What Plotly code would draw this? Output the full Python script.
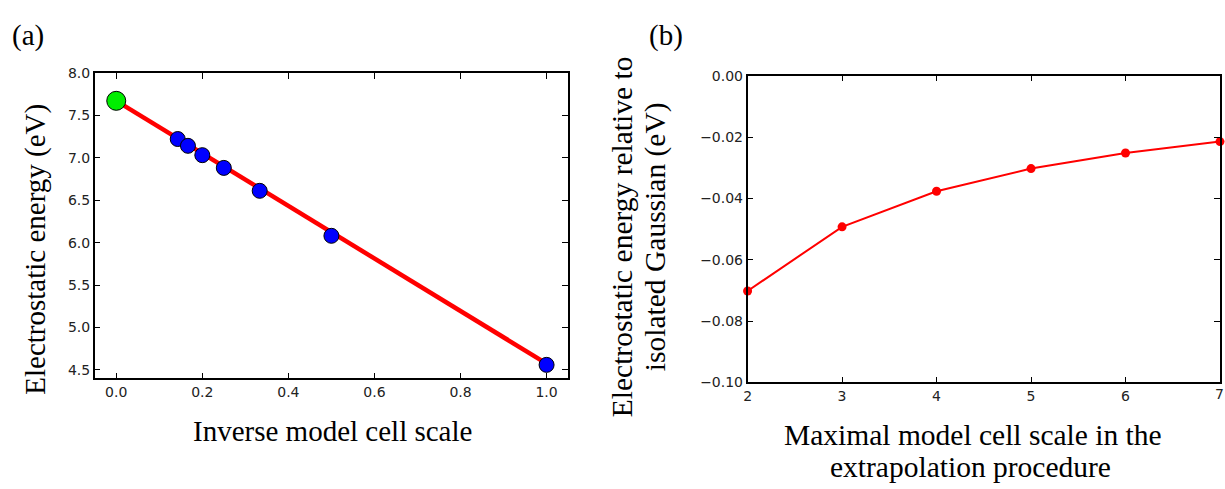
import plotly.graph_objects as go

# Panel (a): electrostatic energy vs inverse model cell scale
inv_scale = [1/7, 1/6, 1/5, 1/4, 1/3, 1/2, 1.0]
energy = [7.22, 7.14, 7.03, 6.88, 6.61, 6.08, 4.56]
extrap_x = [0.0]
extrap_y = [7.67]
fit_x = [0.0, 1.0]
fit_y = [7.67, 4.575]

# Panel (b): energy relative to isolated Gaussian vs maximal cell scale
max_scale = [2, 3, 4, 5, 6, 7]
rel_energy = [-0.0702, -0.0493, -0.0377, -0.0303, -0.0252, -0.0215]

a_ticks = [0.0, 0.2, 0.4, 0.6, 0.8, 1.0]
a_yticks = [4.5, 5.0, 5.5, 6.0, 6.5, 7.0, 7.5, 8.0]
b_ticks = [2, 3, 4, 5, 6, 7]
b_yticks = [-0.10, -0.08, -0.06, -0.04, -0.02, 0.00]

fig = go.Figure()

fig.add_trace(go.Scatter(x=fit_x, y=fit_y, mode="lines",
                         line=dict(color="#ff0000", width=4.5),
                         xaxis="x", yaxis="y", showlegend=False))
fig.add_trace(go.Scatter(x=inv_scale, y=energy, mode="markers",
                         marker=dict(color="#0000ff", size=15,
                                     line=dict(color="black", width=1)),
                         xaxis="x", yaxis="y", showlegend=False))
fig.add_trace(go.Scatter(x=extrap_x, y=extrap_y, mode="markers",
                         marker=dict(color="#00ee00", size=19,
                                     line=dict(color="black", width=1)),
                         xaxis="x", yaxis="y", showlegend=False, cliponaxis=False))

fig.add_trace(go.Scatter(x=max_scale, y=rel_energy, mode="lines+markers",
                         line=dict(color="#ff0000", width=2),
                         marker=dict(color="#ff0000", size=9),
                         xaxis="x2", yaxis="y2", showlegend=False,
                         cliponaxis=False))

tick_font = dict(family="DejaVu Sans", size=14, color="#222222")
axis_common = dict(showline=True, linecolor="black", linewidth=1.5,
                   mirror="ticks", ticks="inside", ticklen=6, tickwidth=1,
                   tickcolor="black", showgrid=False, zeroline=False,
                   tickfont=tick_font)

fig.update_layout(
    width=1225, height=489,
    margin=dict(l=0, r=0, t=0, b=0),
    paper_bgcolor="white", plot_bgcolor="white",
    xaxis=dict(domain=[0.0743, 0.462], range=[-0.05, 1.05],
               tickvals=a_ticks, ticktext=[f"{v:.1f}" for v in a_ticks],
               anchor="y", **axis_common),
    yaxis=dict(domain=[0.2168, 0.863], range=[4.4, 8.0],
               tickvals=a_yticks, ticktext=[f"{v:.1f}" for v in a_yticks],
               anchor="x", **axis_common),
    xaxis2=dict(domain=[0.609, 0.9959], range=[2, 7],
                tickvals=b_ticks[:-1], ticktext=[str(v) for v in b_ticks[:-1]],
                anchor="y2", **axis_common),
    yaxis2=dict(domain=[0.2086, 0.8569], range=[-0.10, 0.0],
                tickvals=b_yticks,
                ticktext=[f"{v:.2f}".replace("-", "\u2212") for v in b_yticks],
                anchor="x2", **axis_common),
)

# last x tick label of panel (b) sits right at the page edge
fig.add_annotation(text=str(b_ticks[-1]), x=b_ticks[-1], xref="x2",
                   y=0.2086, yref="paper", yanchor="top", xanchor="center",
                   yshift=-2, showarrow=False, font=tick_font)

serif = "Liberation Serif, Times New Roman, serif"
annots = [
    dict(text="(a)", x=24, y=28, size=29),
    dict(text="(b)", x=664, y=28, size=29),
    dict(text="Electrostatic energy (eV)", x=32, y=249, size=29, angle=-90),
    dict(text="Inverse model cell scale", x=330, y=437, size=29),
    dict(text="Electrostatic energy relative to", x=620, y=236, size=29.5, angle=-90),
    dict(text="isolated Gaussian (eV)", x=653, y=236, size=29.5, angle=-90),
    dict(text="Maximal model cell scale in the", x=972, y=441, size=29.5),
    dict(text="extrapolation procedure", x=970, y=475, size=29.5),
]
for a in annots:
    fig.add_annotation(text=a["text"], x=a["x"] / 1225, y=1 - a["y"] / 489,
                       xref="paper", yref="paper", showarrow=False,
                       xanchor="center", yanchor="middle",
                       textangle=a.get("angle", 0),
                       font=dict(family=serif, size=a["size"], color="black"))

fig.write_html("out.html")
